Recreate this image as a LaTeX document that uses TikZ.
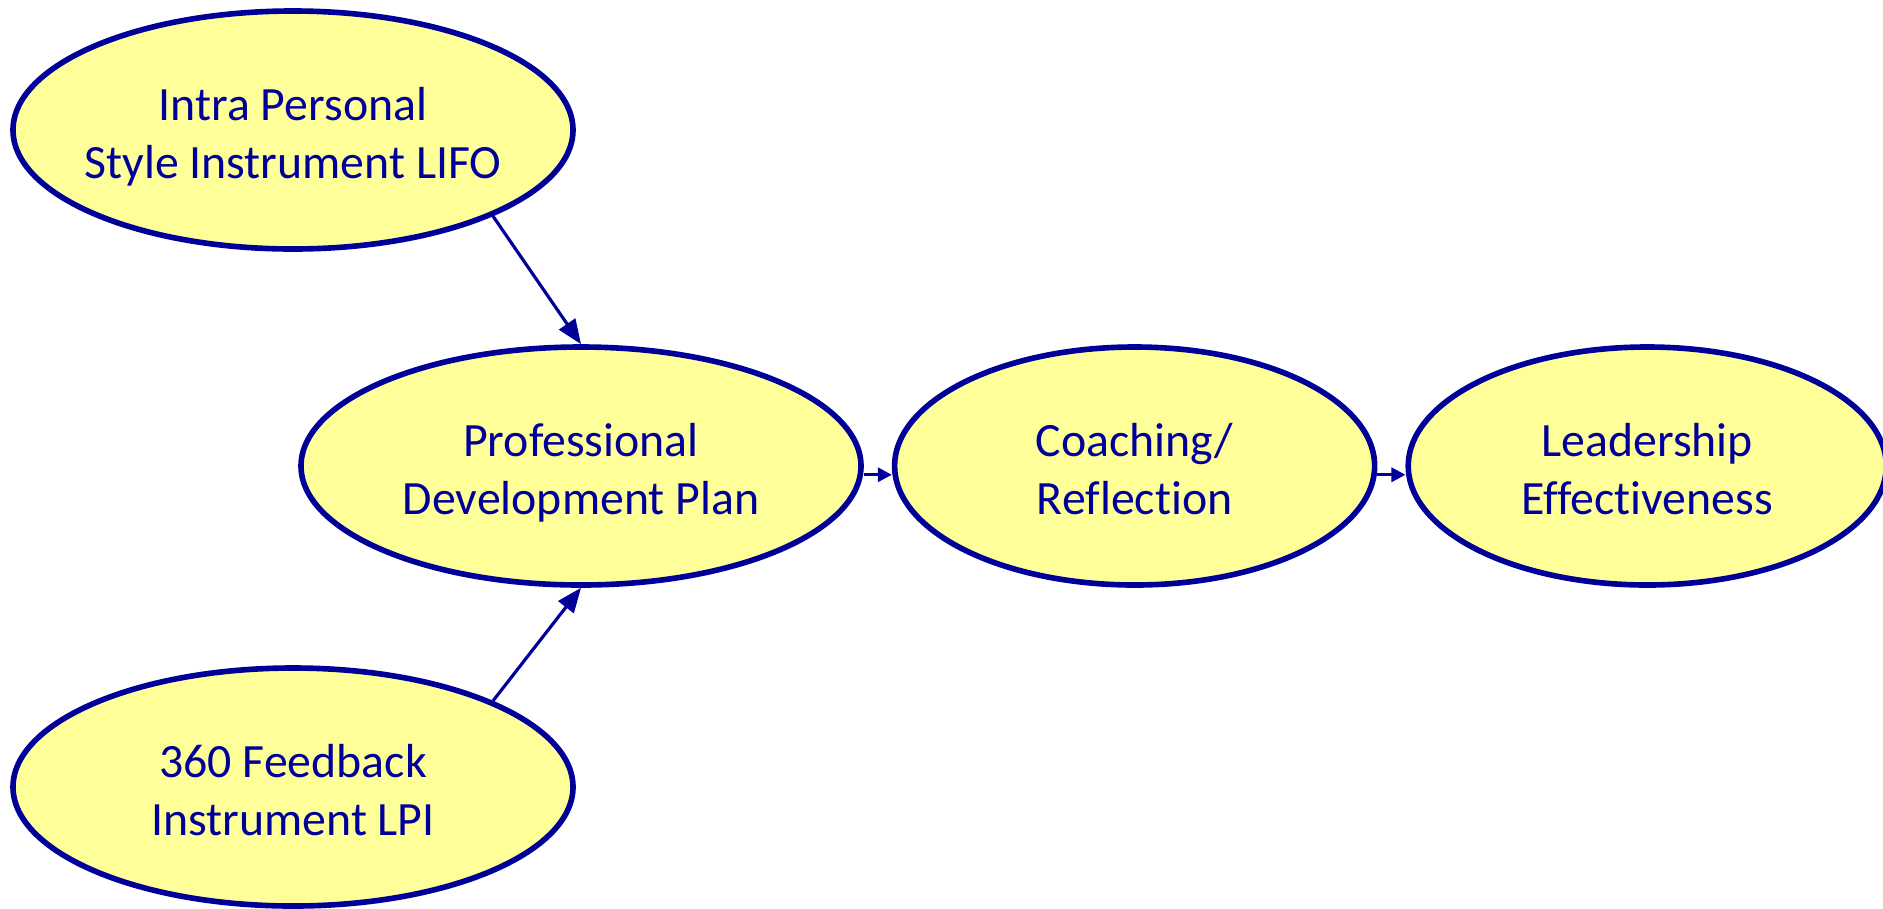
\documentclass[tikz,border=0pt]{standalone}
\usepackage{fontspec}
\setmainfont{Carlito}[Ligatures=CommonOff]
\usepackage{tikz}
\usetikzlibrary{shapes,arrows.meta,positioning}
\definecolor{darkblue}{HTML}{000099}
\definecolor{paleyellow}{HTML}{FFFF99}
\tikzset{%
ovalnode/.style={ellipse, draw=darkblue, line width=1.6pt, fill=paleyellow,
  text=darkblue, align=center, inner xsep=-0.25cm, inner ysep=0pt,
  minimum width=5.6cm, minimum height=2.38cm,
  text height=27.5pt, text depth=0pt,
  font=\fontsize{13.6}{16.4}\selectfont},
link/.style={draw=darkblue, line width=0.9pt, -{Triangle[length=7pt,width=5.5pt]}},
shortlink/.style={draw=darkblue, line width=0.9pt, -{Triangle[length=4pt,width=4pt]}}
}

\begin{document}
\begin{tikzpicture}[node distance=0.28cm]
			\useasboundingbox (0,0) rectangle (18.83,9.08);
			\node[ovalnode] (plan) at (5.81,4.42) {Professional\\Development Plan};
			\node[ovalnode, minimum width=4.8cm] (coach) [right=of plan] {Coaching/\\Reflection};
			\node[ovalnode, minimum width=4.78cm] (lead) [right=of coach] {Leadership\\Effectiveness};
			\node[ovalnode] (lifo) at (2.93,7.78) {Intra Personal\\Style Instrument LIFO};
			\node[ovalnode] (lpi) at (2.93,1.21) {360 Feedback\\Instrument LPI};
			\path[link] (lifo.south east) -- (plan.north);
			\path[link] (lpi.north east) -- (plan.south);
			\path[shortlink] ([yshift=-2.5pt]plan.east) -- ([yshift=-2.5pt]coach.west);
			\path[shortlink] ([yshift=-2.5pt]coach.east) -- ([yshift=-2.5pt]lead.west);
\end{tikzpicture}
\end{document}
